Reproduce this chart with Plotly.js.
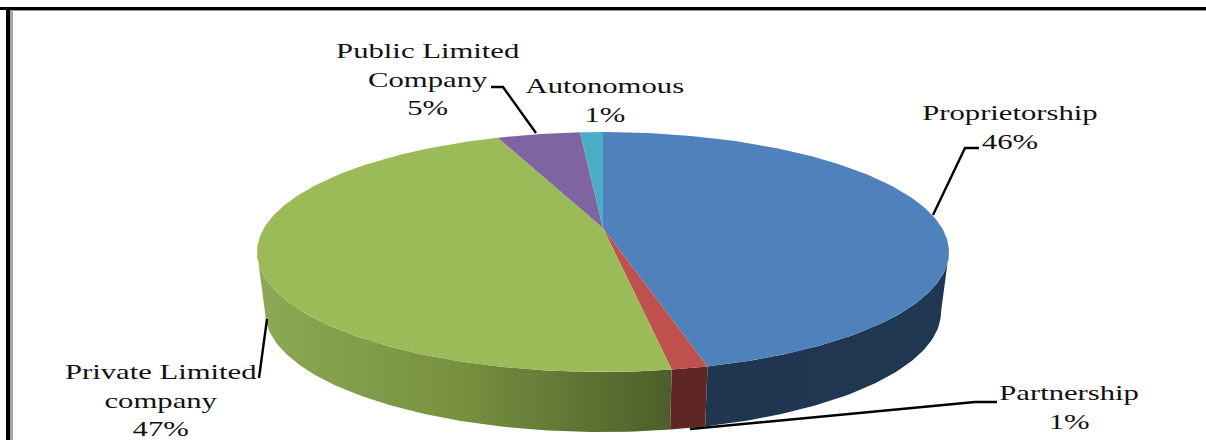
<!DOCTYPE html>
<html>
<head>
<meta charset="utf-8">
<script src="https://cdn.plot.ly/plotly-3.0.1.min.js"></script>
<style>html,body{margin:0;padding:0;background:#fff}#chart{width:1206px;height:440px}</style>
</head>
<body>
<div id="chart"></div>
<script>
// Data
const categories = ["Proprietorship", "Partnership", "Private Limited company", "Public Limited Company", "Autonomous"];
const shares = [46, 1.4, 46.6, 4.7, 1.3];
const topColors = ["#4F81BD", "#C0504D", "#9BBB59", "#8064A2", "#4BACC6"];
const wallColors = [
  [[0, "#1F3550"], [1, "#203752"]],
  [[0, "#5E2625"], [1, "#5E2625"]],
  [[0, "#8DA955"], [0.5, "#76903F"], [1, "#4D5E2A"]]
];
const labelLines = [
  ["Proprietorship", "46%"],
  ["Partnership", "1%"],
  ["Private Limited", "company", "47%"],
  ["Public Limited", "Company", "5%"],
  ["Autonomous", "1%"]
];
const labelCentres = [[1010, 127], [1069, 406.5], [160, 400], [427, 78.5], [605, 100]];
const leaderX = [[933, 965, 979], [690, 975, 997], [267, 259], [491, 503, 536]];
const leaderY = [[215, 148, 148], [429, 402, 402], [319, 378], [87, 87, 133]];

// Perspective projection of the pie disc
const apex = {x: 603, y: 228}, halfW = 339, halfH = 115.2, persp = 0.2;
const depth = 60, baseScale = 0.977;
const rad = d => d * Math.PI / 180;
function project(deg) {
  const px = Math.sin(rad(deg)), py = Math.cos(rad(deg));
  const w = 1 + persp * py;
  return [apex.x + halfW * px / w, apex.y - halfH * py / w];
}
function projectBase(deg) {
  const p = project(deg);
  return [apex.x + (p[0] - apex.x) * baseScale, p[1] + depth];
}
function arc(from, to, fn) {
  const pts = [], n = Math.max(2, Math.ceil(Math.abs(to - from)));
  for (let i = 0; i <= n; i++) pts.push(fn(from + (to - from) * i / n));
  return pts;
}

// Slice angles come from the share values
const edges = [0];
shares.forEach(v => edges.push(edges[edges.length - 1] + v * 3.6));

const traces = [];
// Side walls, only the near half of the disc is visible
const wallStart = 101.5, wallEnd = 258.5;
for (let i = 0; i < 3; i++) {
  const a = Math.max(edges[i], wallStart), b = Math.min(edges[i + 1], wallEnd);
  const pts = arc(a, b, project).concat(arc(b, a, projectBase));
  traces.push({
    type: "scatter", mode: "lines", fill: "toself",
    x: pts.map(p => p[0]), y: pts.map(p => p[1]),
    line: {width: 0, color: wallColors[i][0][1]},
    fillgradient: {type: "horizontal", colorscale: wallColors[i]},
    name: categories[i] + " side", hoverinfo: "skip", showlegend: false
  });
}
// Top faces
shares.forEach((v, i) => {
  const pts = [[apex.x, apex.y]].concat(arc(edges[i], edges[i + 1], project));
  pts.push([apex.x, apex.y]);
  traces.push({
    type: "scatter", mode: "lines", fill: "toself",
    x: pts.map(p => p[0]), y: pts.map(p => p[1]),
    line: {width: 0, color: topColors[i]}, fillcolor: topColors[i],
    name: categories[i], showlegend: false, hoverinfo: "name"
  });
});
// Leader lines
leaderX.forEach((xs, i) => traces.push({
  type: "scatter", mode: "lines", x: xs, y: leaderY[i],
  line: {color: "#000", width: 2.4}, hoverinfo: "skip", showlegend: false
}));

const annotations = labelLines.map((lines, i) => ({
  x: labelCentres[i][0], y: labelCentres[i][1], xref: "x", yref: "y",
  text: lines.join("<br>"), showarrow: false, align: "center",
  xanchor: "center", yanchor: "middle",
  font: {family: "Liberation Serif, Times New Roman, serif", size: 22, color: "#111"}
}));

const frame = [
  {x0: 0, x1: 1206, y0: 7, y1: 10, color: "#000"},
  {x0: 10, x1: 1206, y0: 10, y1: 11, color: "#999"},
  {x0: 6, x1: 10, y0: 7, y1: 440, color: "#000"},
  {x0: 10, x1: 13, y0: 10, y1: 440, color: "#A5A5A5"}
];
const shapes = frame.map(f => ({
  type: "rect", xref: "x", yref: "y", x0: f.x0, x1: f.x1, y0: f.y0, y1: f.y1,
  fillcolor: f.color, line: {width: 0}, layer: "below"
}));

const layout = {
  width: 1206, height: 440,
  margin: {l: 0, r: 0, t: 0, b: 0},
  paper_bgcolor: "#fff", plot_bgcolor: "#fff",
  xaxis: {range: [0, 1206], visible: false, fixedrange: true},
  yaxis: {range: [440, 0], visible: false, fixedrange: true},
  showlegend: false, annotations, shapes
};

Plotly.newPlot("chart", traces, layout, {displayModeBar: false, staticPlot: true}).then(() => {
  // The reference text is stretched horizontally
  document.querySelectorAll("#chart .annotation-text").forEach(t => {
    const box = t.getBBox(), cx = box.x + box.width / 2;
    t.setAttribute("transform", `translate(${cx},0) scale(1.395,1) translate(${-cx},0)`);
  });
});
</script>
</body>
</html>
